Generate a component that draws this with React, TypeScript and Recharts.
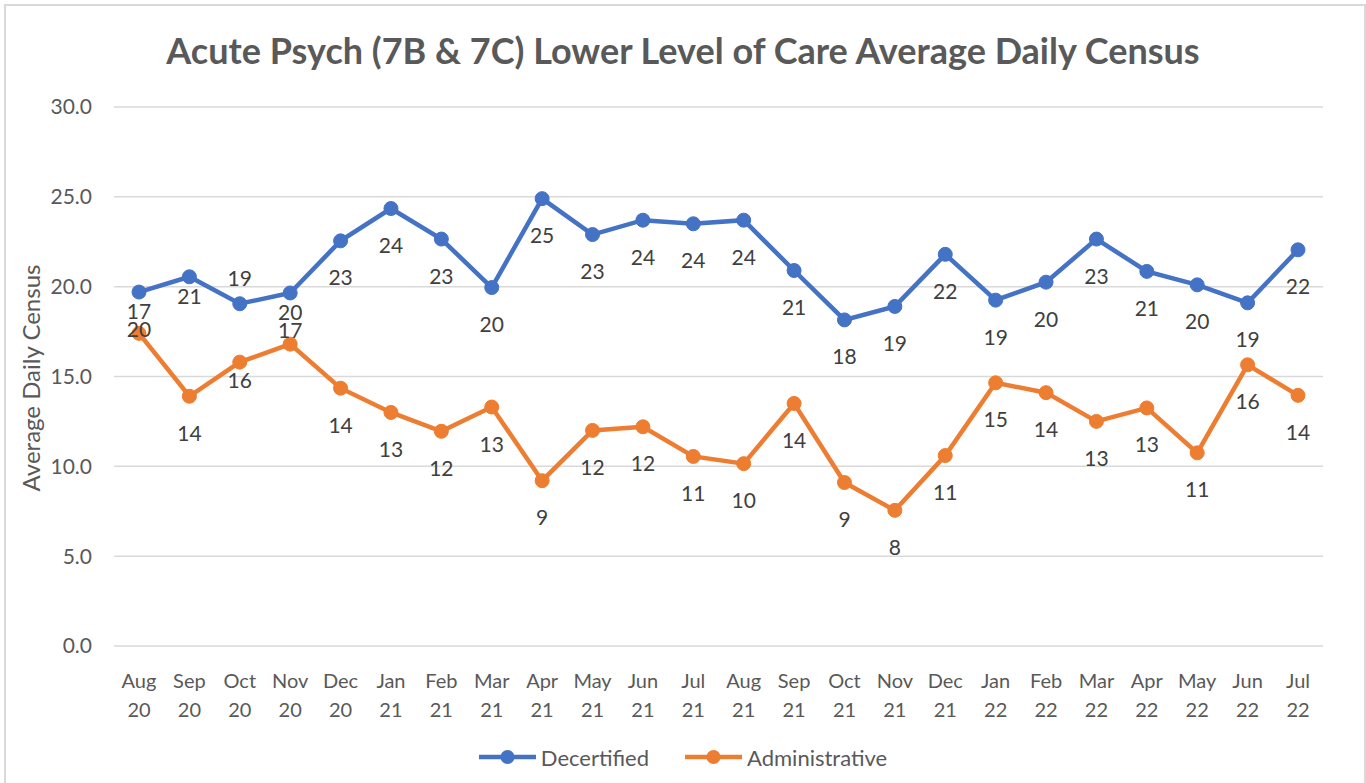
import React from "react"
import { CartesianGrid, LabelList, Legend, Line, LineChart, XAxis, YAxis } from "recharts"

// Monthly average daily census, Aug 2020 - Jul 2022
const months = [
  "Aug 20", "Sep 20", "Oct 20", "Nov 20", "Dec 20", "Jan 21", "Feb 21", "Mar 21",
  "Apr 21", "May 21", "Jun 21", "Jul 21", "Aug 21", "Sep 21", "Oct 21", "Nov 21",
  "Dec 21", "Jan 22", "Feb 22", "Mar 22", "Apr 22", "May 22", "Jun 22", "Jul 22",
]

const decertified = [
  19.7, 20.55, 19.05, 19.65, 22.55, 24.35, 22.65, 19.95, 24.9, 22.9, 23.7, 23.5,
  23.7, 20.9, 18.15, 18.9, 21.8, 19.25, 20.25, 22.65, 20.85, 20.1, 19.1, 22.05,
]

const administrative = [
  17.4, 13.9, 15.8, 16.8, 14.35, 13.0, 11.95, 13.3, 9.2, 12.0, 12.2, 10.55,
  10.15, 13.5, 9.1, 7.55, 10.6, 14.65, 14.1, 12.5, 13.25, 10.75, 15.65, 13.95,
]

// data labels as printed on the chart
const decertifiedLabels = [17, 21, 19, 20, 23, 24, 23, 20, 25, 23, 24, 24, 24, 21, 18, 19, 22, 19, 20, 23, 21, 20, 19, 22]
const administrativeLabels = [20, 14, 16, 17, 14, 13, 12, 13, 9, 12, 12, 11, 10, 14, 9, 8, 11, 15, 14, 13, 13, 11, 16, 14]

const yTicks = [0, 5, 10, 15, 20, 25, 30]

const BLUE = "#4472C4"
const ORANGE = "#ED7D31"
const TEXT = "#595959"
const FONT = "Lato, 'Open Sans', sans-serif"

// label offset below the point (px); a few labels were moved by hand in the original
const LABEL_OFFSET = 36
const decertifiedShift: Record<number, number> = { 0: 18, 1: 19, 2: -26, 3: 19 }
const administrativeShift: Record<number, number> = { 0: -5, 2: 17, 3: -15 }

const data = months.map((m, i) => ({
  month: m,
  decertified: decertified[i],
  administrative: administrative[i],
}))

const makeLabel = (texts: number[], shifts: Record<number, number>) => (props: any) => {
  const vb = props.viewBox || {}
  const x = props.x ?? vb.x
  const y = props.y ?? vb.y
  const i = props.index
  const dy = shifts[i] ?? LABEL_OFFSET
  return (
    <text
      x={x}
      y={y + dy}
      textAnchor="middle"
      dominantBaseline="central"
      fill="#404040"
      fontSize={21}
      fontFamily={FONT}
    >
      {texts[i]}
    </text>
  )
}

const MonthTick = (props: any) => {
  const { x, y, payload } = props
  const [mon, yr] = String(payload.value).split(" ")
  return (
    <text x={x} y={y} textAnchor="middle" fill={TEXT} fontSize={20} fontFamily={FONT}>
      <tspan x={x} dy={34}>{mon}</tspan>
      <tspan x={x} dy={29}>{yr}</tspan>
    </text>
  )
}

const LegendContent = () => {
  const items = [
    { name: "Decertified", color: BLUE },
    { name: "Administrative", color: ORANGE },
  ]
  return (
    <div style={{ display: "flex", justifyContent: "center", alignItems: "center", height: 30 }}>
      {items.map((it, k) => (
        <div key={it.name} style={{ display: "flex", alignItems: "center", marginLeft: k ? 36 : 0 }}>
          <svg width={57} height={18}>
            <line x1={0} y1={9} x2={57} y2={9} stroke={it.color} strokeWidth={4.5} />
            <circle cx={28.5} cy={9} r={7} fill={it.color} />
          </svg>
          <span style={{ marginLeft: 5, fontSize: 22, color: TEXT, fontFamily: FONT }}>{it.name}</span>
        </div>
      ))}
    </div>
  )
}

export default function App() {
  return (
    <div style={{ position: "absolute", left: 0, top: 0, width: 1366, height: 783, background: "#fff", overflow: "hidden", fontFamily: FONT }}>
      <div style={{ position: "absolute", left: 4, top: 4, width: 1358, height: 800, border: "2px solid #d9d9d9" }} />
      <div
        style={{
          position: "absolute",
          left: 0,
          top: 28,
          width: 1366,
          textAlign: "center",
          fontSize: 36,
          fontWeight: 700,
          color: TEXT,
          lineHeight: "44px",
        }}
      >
        Acute Psych (7B &amp; 7C) Lower Level of Care Average Daily Census
      </div>
      <div
        style={{
          position: "absolute",
          left: 30,
          top: 378,
          transform: "translate(-50%, -50%) rotate(-90deg)",
          whiteSpace: "nowrap",
          fontSize: 24,
          color: TEXT,
        }}
      >
        Average Daily Census
      </div>
      <div style={{ position: "absolute", left: 0, top: 0 }}>
        <LineChart width={1366} height={783} data={data} margin={{ top: 107, right: 43, bottom: 47, left: 0 }}>
          <CartesianGrid vertical={false} stroke="#d9d9d9" strokeWidth={1.5} />
          <XAxis
            dataKey="month"
            axisLine={false}
            tickLine={false}
            interval={0}
            height={60}
            padding={{ left: 25, right: 25 }}
            tick={<MonthTick />}
          />
          <YAxis
            domain={[0, 30]}
            ticks={yTicks}
            width={114}
            axisLine={false}
            tickLine={false}
            tickSize={0}
            tickMargin={22}
            tickFormatter={(v: number) => v.toFixed(1)}
            tick={{ fill: TEXT, fontSize: 21, fontFamily: FONT }}
          />
          <Legend
            content={<LegendContent />}
            wrapperStyle={{ top: 742, bottom: "auto", left: 0, width: 1366, height: 30 }}
          />
          <Line
            type="linear"
            dataKey="decertified"
            name="Decertified"
            stroke={BLUE}
            strokeWidth={4.5}
            dot={{ r: 7, fill: BLUE, stroke: BLUE, strokeWidth: 1 }}
            activeDot={false}
            isAnimationActive={false}
          >
            <LabelList dataKey="decertified" content={makeLabel(decertifiedLabels, decertifiedShift)} />
          </Line>
          <Line
            type="linear"
            dataKey="administrative"
            name="Administrative"
            stroke={ORANGE}
            strokeWidth={4.5}
            dot={{ r: 7, fill: ORANGE, stroke: ORANGE, strokeWidth: 1 }}
            activeDot={false}
            isAnimationActive={false}
          >
            <LabelList dataKey="administrative" content={makeLabel(administrativeLabels, administrativeShift)} />
          </Line>
        </LineChart>
      </div>
    </div>
  )
}
